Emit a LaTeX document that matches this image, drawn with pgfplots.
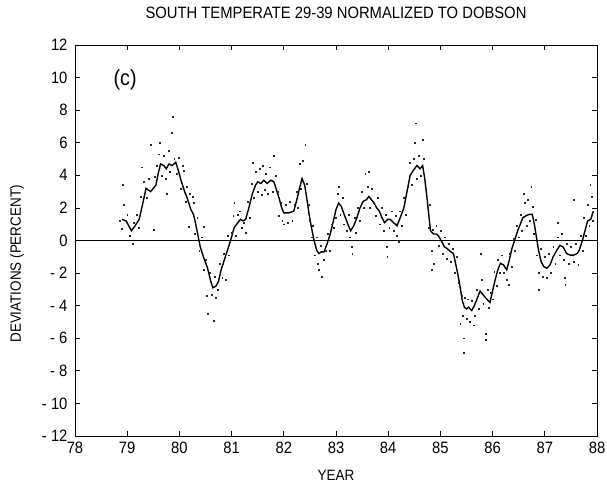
\documentclass[border=0pt]{standalone}
\usepackage{fontspec}
\setmainfont[FakeStretch=0.9]{Liberation Sans}
\usepackage{pgfplots}
\pgfplotsset{compat=1.18}

% smoothed series
\pgfplotstableread{
x y
78.90 1.3
78.98 1.2
79.08 0.6
79.15 0.9
79.23 1.3
79.30 2.3
79.36 3.2
79.45 3.0
79.55 3.4
79.60 4.2
79.64 4.7
79.70 4.6
79.75 4.4
79.80 4.7
79.86 4.6
79.93 4.8
79.98 4.3
80.03 3.7
80.10 3.0
80.15 2.6
80.22 1.9
80.27 1.6
80.30 1.2
80.35 0.4
80.40 -0.4
80.46 -1.0
80.54 -1.7
80.60 -2.5
80.64 -2.9
80.70 -2.8
80.75 -2.5
80.80 -1.8
80.86 -1.2
80.92 -0.6
80.98 0.0
81.05 0.8
81.10 1.0
81.17 1.3
81.22 1.2
81.27 1.3
81.33 2.0
81.40 2.9
81.46 3.4
81.50 3.6
81.56 3.5
81.62 3.7
81.68 3.5
81.75 3.7
81.81 3.6
81.86 3.1
81.91 2.6
81.96 2.0
82.00 1.7
82.10 1.7
82.19 1.8
82.25 2.5
82.30 3.2
82.35 3.8
82.40 3.4
82.44 2.6
82.48 1.7
82.53 0.8
82.58 0.0
82.63 -0.6
82.67 -0.8
82.72 -0.7
82.77 -0.7
82.83 -0.2
82.89 0.4
82.95 1.2
83.00 1.9
83.05 2.3
83.10 2.1
83.18 1.4
83.24 0.9
83.28 0.6
83.34 0.9
83.40 1.4
83.46 2.0
83.52 2.4
83.58 2.5
83.63 2.7
83.68 2.5
83.73 2.3
83.78 2.0
83.83 1.8
83.88 1.4
83.93 1.1
83.99 1.3
84.04 1.3
84.10 1.1
84.17 0.9
84.23 1.4
84.30 2.0
84.36 3.0
84.42 4.0
84.48 4.3
84.55 4.6
84.61 4.4
84.66 4.6
84.70 3.8
84.74 2.7
84.78 1.5
84.81 0.6
84.87 0.4
84.93 0.4
84.98 0.2
85.03 -0.1
85.08 -0.4
85.13 -0.5
85.20 -0.7
85.25 -0.8
85.29 -1.4
85.33 -2.0
85.38 -2.9
85.42 -3.7
85.46 -4.1
85.50 -4.2
85.54 -4.1
85.60 -4.3
85.65 -4.0
85.70 -3.6
85.76 -3.1
85.81 -3.3
85.86 -3.5
85.95 -3.8
86.00 -3.1
86.05 -2.4
86.10 -1.8
86.15 -1.4
86.21 -1.5
86.27 -1.8
86.32 -1.2
86.37 -0.5
86.43 0.1
86.48 0.6
86.53 1.0
86.58 1.4
86.63 1.5
86.70 1.6
86.76 1.6
86.80 1.0
86.84 0.2
86.88 -0.6
86.93 -1.3
86.98 -1.6
87.04 -1.7
87.10 -1.5
87.16 -1.0
87.23 -0.6
87.29 -0.3
87.35 -0.4
87.42 -0.8
87.49 -0.9
87.55 -0.9
87.62 -0.8
87.66 -0.6
87.72 0.0
87.77 0.6
87.82 1.2
87.88 1.3
87.93 1.8
}\smoothed

% individual observations
\pgfplotstableread{
x y
78.86 1.2
78.90 0.7
78.92 3.4
78.94 2.2
79.00 1.6
79.05 0.3
79.10 -0.2
79.12 1.1
79.18 1.6
79.22 0.8
79.26 2.7
79.28 4.5
79.32 3.6
79.38 2.6
79.42 3.8
79.45 5.9
79.50 0.65
79.52 3.9
79.57 4.6
79.60 5.3
79.63 6.0
79.66 4.0
79.70 5.2
79.73 3.8
79.76 2.9
79.79 5.5
79.82 4.2
79.85 6.6
79.87 7.6
79.90 5.0
79.94 4.1
79.99 5.1
80.02 3.2
80.06 4.6
80.08 4.3
80.12 2.4
80.14 3.3
80.18 0.85
80.20 2.9
80.25 2.7
80.27 2.3
80.30 0.4
80.34 1.4
80.38 -0.6
80.42 0.2
80.46 0.85
80.46 -1.8
80.50 -1.2
80.52 -3.4
80.55 -4.5
80.58 -2.0
80.62 -3.3
80.66 -4.9
80.68 -2.2
80.70 -3.5
80.74 -3.0
80.78 -1.4
80.82 -2.3
80.85 -0.8
80.88 -2.4
80.92 0.3
80.95 -0.9
81.00 0.5
81.03 1.5
81.05 2.3
81.08 0.3
81.12 1.6
81.16 1.8
81.19 0.8
81.24 1.1
81.27 0.5
81.30 2.4
81.34 1.4
81.38 3.5
81.40 4.8
81.43 2.6
81.46 4.2
81.50 3.0
81.53 4.4
81.57 2.8
81.60 4.6
81.63 3.1
81.66 4.1
81.70 2.9
81.73 4.5
81.78 3.0
81.81 5.2
81.84 4.0
81.88 3.0
81.90 1.5
81.94 2.3
81.97 1.2
82.00 1.0
82.04 2.2
82.08 1.1
82.12 2.4
82.16 1.2
82.20 2.2
82.24 3.0
82.27 2.0
82.30 4.7
82.33 3.2
82.36 4.9
82.41 5.9
82.44 3.5
82.47 2.2
82.50 1.2
82.53 0.2
82.56 0.9
82.60 -0.9
82.63 0.2
82.65 -1.4
82.67 -1.8
82.70 -0.3
82.72 -2.2
82.76 -1.2
82.80 -0.6
82.84 0.4
82.88 -0.6
82.92 1.0
82.96 0.8
83.00 1.4
83.03 2.9
83.05 3.3
83.08 1.6
83.12 2.6
83.15 1.0
83.20 0.6
83.24 1.6
83.27 0.2
83.30 -0.4
83.31 -0.8
83.35 1.4
83.38 0.5
83.42 2.0
83.46 1.2
83.50 3.0
83.53 2.0
83.56 4.1
83.60 3.3
83.62 4.2
83.65 2.0
83.69 3.2
83.72 2.3
83.76 1.5
83.80 2.6
83.84 1.0
83.88 2.0
83.92 0.6
83.95 1.6
83.97 -0.4
83.98 -1.0
84.02 0.8
84.06 1.8
84.10 0.6
84.14 1.5
84.17 0.3
84.20 -0.1
84.22 1.8
84.26 0.9
84.30 2.6
84.34 1.6
84.38 3.3
84.42 4.8
84.45 3.4
84.48 5.0
84.50 6.0
84.52 7.2
84.55 3.8
84.58 5.2
84.62 4.0
84.66 6.2
84.68 5.0
84.72 3.2
84.75 2.0
84.78 0.8
84.80 2.2
84.83 -0.6
84.83 -1.8
84.86 0.65
84.88 -1.4
84.92 0.9
84.96 -0.3
85.00 0.6
85.04 -0.8
85.08 0.2
85.12 -1.1
85.16 -0.2
85.20 -1.3
85.24 -0.5
85.28 -2.0
85.31 -1.0
85.34 -2.6
85.38 -5.1
85.40 -3.4
85.42 -4.6
85.44 -6.0
85.44 -6.9
85.47 -3.5
85.50 -4.8
85.53 -3.6
85.56 -5.0
85.60 -3.7
85.63 -5.2
85.66 -4.6
85.70 -3.0
85.73 -4.2
85.77 -0.8
85.79 -2.4
85.82 -3.9
85.86 -5.7
85.87 -6.1
85.90 -3.0
85.92 -4.1
85.96 -3.2
86.00 -3.6
86.03 -1.9
86.07 -2.8
86.10 -1.2
86.14 -2.0
86.18 -0.9
86.22 -2.0
86.27 -2.4
86.30 -2.7
86.33 -0.8
86.36 -1.6
86.40 0.1
86.43 -0.6
86.46 0.9
86.50 0.2
86.53 1.6
86.56 0.6
86.60 2.9
86.62 2.3
86.65 0.9
86.68 2.5
86.71 1.2
86.74 3.3
86.76 2.1
86.79 0.4
86.82 1.3
86.85 -0.9
86.88 -2.0
86.89 -3.0
86.92 -0.5
86.96 -2.2
87.00 -1.0
87.04 -2.3
87.08 -0.8
87.12 -2.0
87.16 -0.4
87.20 -1.4
87.24 0.2
87.25 1.1
87.28 -0.9
87.32 0.4
87.36 -1.2
87.38 -2.3
87.39 -2.7
87.42 -0.2
87.46 -1.4
87.50 -0.4
87.55 2.5
87.56 -1.3
87.60 -0.2
87.64 -1.5
87.68 0.3
87.72 -0.6
87.75 1.4
87.78 0.3
87.82 2.2
87.85 0.9
87.87 3.4
87.89 2.7
87.92 1.2
}\points

\begin{document}
\begin{tikzpicture}
\begin{axis}[
    scale only axis,
    width=522bp, height=391bp,
    xmin=78, xmax=88, ymin=-12, ymax=12,
    xtick={78,...,88},
    ytick={-12,-10,...,12},
    yticklabels={- 12,- 10,- 8,- 6,- 4,- 2,0,2,4,6,8,10,12},
    tick align=inside, tick pos=both,
    major tick length=5bp,
    axis line style={line width=0.9pt},
    tick style={line width=0.8pt, black},
    ticklabel style={font=\fontsize{16.5}{19}\selectfont},
    xticklabel style={yshift=-3bp},
    yticklabel style={xshift=-4bp},
    /pgf/number format/assume math mode=true,
    title={SOUTH TEMPERATE 29-39 NORMALIZED TO DOBSON},
    title style={at={(axis description cs:0.5,1.066)}, anchor=center,
        font=\fontsize{16.5}{19}\selectfont},
    xlabel={YEAR},
    xlabel style={at={(axis description cs:0.5,-0.1)}, anchor=center,
        font=\fontsize{15}{18}\selectfont},
    ylabel={DEVIATIONS (PERCENT)},
    ylabel style={at={(axis description cs:-0.111,0.44)}, anchor=center,
        font=\fontsize{15}{18}\selectfont},
    clip=false,
]
\addplot[black, line width=0.5pt] coordinates {(78,0) (88,0)};
\addplot[only marks, mark=square*, mark size=0.45pt, black!85] table {\points};
\addplot[black, line width=1.4pt] table {\smoothed};
\node[font=\fontsize{22}{26}\selectfont] at (axis cs:78.96,9.85) {(c)};
\end{axis}
\pgfresetboundingbox
\path (current axis.south west) ++(-75bp,-51bp) rectangle ++(607bp,487bp);
\end{tikzpicture}
\end{document}
